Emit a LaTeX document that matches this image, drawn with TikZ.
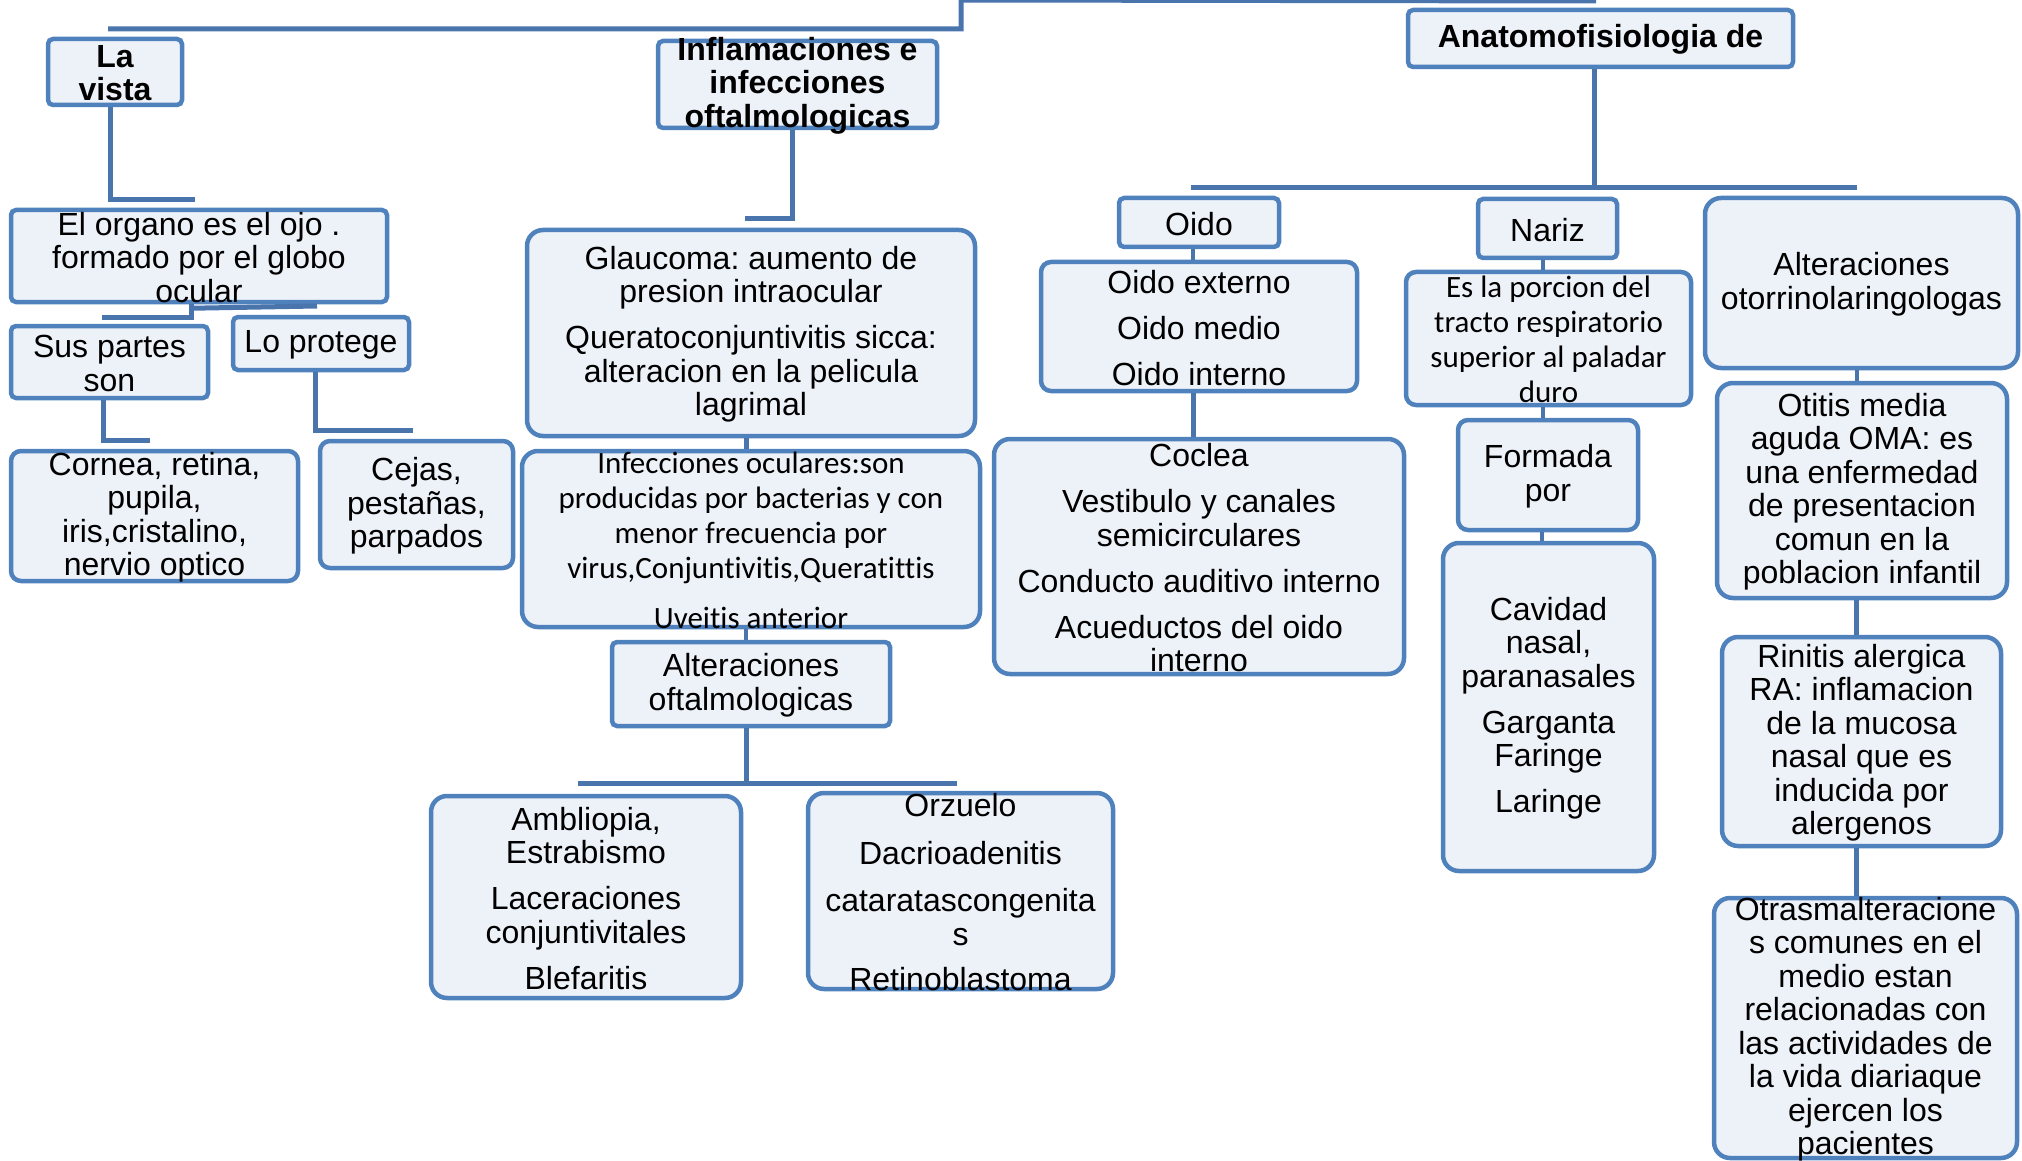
\documentclass[tikz,border=0pt]{standalone}
\usepackage{fontspec}
\setmainfont{Liberation Sans}
\newfontfamily\calib[Ligatures=NoCommon]{Carlito}
\definecolor{boxblue}{HTML}{4F81BD}
\definecolor{boxfill}{HTML}{EDF1F8}
\definecolor{linkblue}{HTML}{4A74AC}
\frenchspacing
\newcommand{\ctext}[2]{\lower2.5pt\hbox{\parbox[b][0pt][c]{#1}{\centering #2}}}
\tikzset{
  blok/.style={draw=boxblue,fill=boxfill,line width=4.5pt,rounded corners=5pt,inner sep=0pt,
    font=\fontsize{32}{33.5}\selectfont},
  bigblok/.style={blok,rounded corners=16pt},
  head/.style={blok,font=\fontsize{32}{33.5}\selectfont\bfseries},
  small/.style={font=\calib\fontsize{31}{35}\selectfont},
  link/.style={draw=linkblue,line width=5pt}
}
\begin{document}
\begin{tikzpicture}[x=1pt,y=-1pt]
\useasboundingbox (0,0) rectangle (2022,1161);
% top level
\node[head,minimum width=134,minimum height=66] (vista) at (115,72) {\ctext{134pt}{La\\vista}};
\node[head,minimum width=279,minimum height=87] (infl) at (797.5,84.5) {\ctext{279pt}{Inflamaciones e\\infecciones\\oftalmologicas}};
\node[head,minimum width=385,minimum height=57] (anat) at (1600.5,38.5) {\ctext{385pt}{Anatomofisiologia de}};
% la vista
\node[blok,minimum width=376,minimum height=92] (organo) at (199,256) {\ctext{376pt}{El organo es el ojo .\\formado por el globo\\ocular}};
\node[blok,minimum width=197,minimum height=72] (partes) at (109.5,362) {\ctext{197pt}{Sus partes\\son}};
\node[blok,minimum width=176,minimum height=53] (protege) at (321,343.5) {\ctext{176pt}{Lo protege}};
\node[bigblok,rounded corners=10pt,minimum width=287,minimum height=130] (cornea) at (154.5,516) {\ctext{287pt}{Cornea, retina,\\pupila,\\iris,cristalino,\\nervio optico}};
\node[bigblok,rounded corners=10pt,minimum width=193,minimum height=127] (cejas) at (416.5,504.5) {\ctext{193pt}{Cejas,\\pesta\~nas,\\parpados}};
% inflamaciones
\node[bigblok,minimum width=448,minimum height=206] (glau) at (751,333) {\ctext{448pt}{Glaucoma: aumento de\\presion intraocular\\[12.5pt]Queratoconjuntivitis sicca:\\alteracion en la pelicula\\lagrimal}};
\node[bigblok,small,minimum width=458,minimum height=176] (infec) at (751,539) {\ctext{458pt}{Infecciones oculares:son\\producidas por bacterias y con\\menor frecuencia por\\virus,Conjuntivitis,Queratittis\\[15pt]Uveitis anterior}};
\node[blok,minimum width=278,minimum height=84] (altof) at (751,684) {\ctext{278pt}{Alteraciones\\oftalmologicas}};
\node[bigblok,minimum width=310,minimum height=202] (ambl) at (586,897) {\ctext{310pt}{Ambliopia,\\Estrabismo\\[12.5pt]Laceraciones\\conjuntivitales\\[12.5pt]Blefaritis}};
\node[bigblok,minimum width=305,minimum height=196] (orzu) at (960.5,891) {\ctext{305pt}{Orzuelo\\[14pt]Dacrioadenitis\\[14pt]cataratascongenita\\s\\[12pt]Retinoblastoma}};
% anatomofisiologia
\node[blok,minimum width=160,minimum height=49] (oido) at (1199,222.5) {\ctext{160pt}{Oido}};
\node[bigblok,rounded corners=10pt,minimum width=316,minimum height=129] (oidex) at (1199,326.5) {\ctext{316pt}{Oido externo\\[12.5pt]Oido medio\\[12.5pt]Oido interno}};
\node[bigblok,minimum width=410,minimum height=235] (coclea) at (1199,556.5) {\ctext{410pt}{Coclea\\[12.5pt]Vestibulo y canales\\semicirculares\\[12.5pt]Conducto auditivo interno\\[12.5pt]Acueductos del oido\\interno}};
\node[blok,minimum width=139,minimum height=59] (nariz) at (1547.5,228.5) {\ctext{139pt}{Nariz}};
\node[bigblok,small,rounded corners=10pt,minimum width=285,minimum height=133] (porc) at (1548.5,338.5) {\ctext{285pt}{Es la porcion del\\tracto respiratorio\\superior al paladar\\duro}};
\node[bigblok,rounded corners=10pt,minimum width=180,minimum height=110] (formada) at (1548,475) {\ctext{180pt}{Formada\\por}};
\node[bigblok,minimum width=211,minimum height=328] (cavidad) at (1548.5,707) {\ctext{211pt}{Cavidad\\nasal,\\paranasales\\[12.5pt]Garganta\\Faringe\\[12.5pt]Laringe}};
\node[bigblok,minimum width=313,minimum height=170] (otorr) at (1861.5,283) {\ctext{313pt}{Alteraciones\\otorrinolaringologas}};
\node[bigblok,minimum width=290,minimum height=215] (otitis) at (1862,490.5) {\ctext{290pt}{Otitis media\\aguda OMA: es\\una enfermedad\\de presentacion\\comun en la\\poblacion infantil}};
\node[bigblok,minimum width=279,minimum height=209] (rinitis) at (1861.5,741.5) {\ctext{279pt}{Rinitis alergica\\RA: inflamacion\\de la mucosa\\nasal que es\\inducida por\\alergenos}};
\node[bigblok,minimum width=303,minimum height=260] (otras) at (1865.5,1028) {\ctext{303pt}{Otrasmalteracione\\s comunes en el\\medio estan\\relacionadas con\\las actividades de\\la vida diariaque\\ejercen los\\pacientes}};
% free ends of the connectors
\coordinate (root) at (961,0);
\coordinate (rootl) at (108,29);
\coordinate (rootr) at (1596,1);
\coordinate (vistae) at (195,200);
\coordinate (organol) at (102,317);
\coordinate (organor) at (317,306);
\coordinate (partese) at (150,440);
\coordinate (protegee) at (413,430);
\coordinate (infle) at (745,219);
\coordinate (altofl) at (578,783);
\coordinate (altofr) at (957,783);
\coordinate (anatl) at (1191,188);
\coordinate (anatr) at (1857,188);
% connectors
\draw[link] (rootl) -| (root) -- (rootr);
\draw[link] ([xshift=-5pt]vista.south) |- (vistae);
\draw[link] (organol) -| ([xshift=-8pt]organo.south);
\draw[link] ([xshift=-8pt,yshift=-4pt]organo.south) -- (organor);
\draw[link] ([xshift=-6pt]partes.south) |- (partese);
\draw[link] ([xshift=-6pt]protege.south) |- (protegee);
\draw[link] ([xshift=-5pt]infl.south) |- (infle);
\draw[link] ([xshift=-5pt]glau.south) -- ([xshift=-5pt]glau.south |- infec.north);
\draw[link,line width=4pt] ([xshift=-5pt]infec.south) -- ([xshift=-5pt]infec.south |- altof.north);
\draw[link] ([xshift=-5pt]altof.south) -- ([xshift=-5pt]altof.south |- altofl);
\draw[link] (altofl) -- (altofr);
\draw[link] ([xshift=-6pt]anat.south) -- ([xshift=-6pt]anat.south |- anatl);
\draw[link] (anatl) -- (anatr);
\draw[link,line width=4pt] ([xshift=-6pt]oido.south) -- ([xshift=-6pt]oido.south |- oidex.north);
\draw[link] ([xshift=-6pt]oidex.south) -- ([xshift=-6pt]oidex.south |- coclea.north);
\draw[link,line width=4pt] ([xshift=-5pt]nariz.south) -- ([xshift=-5pt]nariz.south |- porc.north);
\draw[link,line width=4pt] ([xshift=-6pt]porc.south) -- ([xshift=-6pt]porc.south |- formada.north);
\draw[link,line width=4pt] ([xshift=-6pt]formada.south) -- ([xshift=-6pt]formada.south |- cavidad.north);
\draw[link,line width=4pt] ([xshift=-5pt]otorr.south) -- ([xshift=-5pt]otorr.south |- otitis.north);
\draw[link] ([xshift=-6pt]otitis.south) -- ([xshift=-6pt]otitis.south |- rinitis.north);
\draw[link] ([xshift=-5pt]rinitis.south) -- ([xshift=-5pt]rinitis.south |- otras.north);
\end{tikzpicture}
\end{document}
